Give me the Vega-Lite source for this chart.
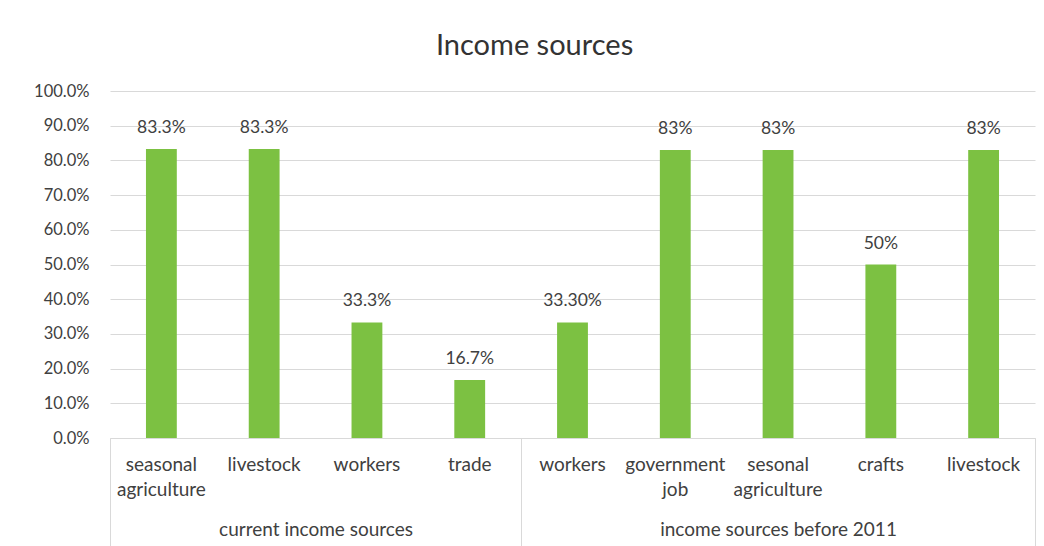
{
  "$schema": "https://vega.github.io/schema/vega-lite/v6.json",
  "width": 925,
  "height": 347,
  "autosize": {"type": "none"},
  "padding": {"left": 110, "top": 91, "right": 9, "bottom": 108},
  "background": "white",
  "config": {"view": {"stroke": null}, "font": "Lato"},
  "title": {"text": "Income sources", "font": "Lato", "fontSize": 29, "fontWeight": "normal", "color": "#333333", "anchor": "middle", "frame": "bounds", "offset": 22},
  "data": {
    "values": [
      {"group": "current income sources", "source": "seasonal agriculture", "key": "current income sources|seasonal agriculture", "value": 0.833, "label": "83.3%"},
      {"group": "current income sources", "source": "livestock", "key": "current income sources|livestock", "value": 0.833, "label": "83.3%"},
      {"group": "current income sources", "source": "workers", "key": "current income sources|workers", "value": 0.333, "label": "33.3%"},
      {"group": "current income sources", "source": "trade", "key": "current income sources|trade", "value": 0.167, "label": "16.7%"},
      {"group": "income sources before 2011", "source": "workers", "key": "income sources before 2011|workers", "value": 0.333, "label": "33.30%"},
      {"group": "income sources before 2011", "source": "government job", "key": "income sources before 2011|government job", "value": 0.83, "label": "83%"},
      {"group": "income sources before 2011", "source": "sesonal agriculture", "key": "income sources before 2011|sesonal agriculture", "value": 0.83, "label": "83%"},
      {"group": "income sources before 2011", "source": "crafts", "key": "income sources before 2011|crafts", "value": 0.5, "label": "50%"},
      {"group": "income sources before 2011", "source": "livestock", "key": "income sources before 2011|livestock", "value": 0.83, "label": "83%"}
    ]
  },
  "layer": [
    {
      "mark": {"type": "bar", "color": "#7cc142", "width": {"band": 0.3}},
      "encoding": {
        "x": {
          "field": "key", "type": "nominal", "sort": null,
          "scale": {"paddingInner": 0, "paddingOuter": 0},
          "axis": {
            "title": null, "orient": "bottom",
            "labelExpr": "split(split(datum.value, '|')[1], ' ')",
            "labelAngle": 0, "labelFont": "Lato", "labelFontSize": 19, "labelColor": "#404040",
            "labelLineHeight": 25, "labelPadding": 17, "labelLimit": 400, "labelOverlap": false,
            "ticks": false, "domainColor": "#d9d9d9", "domainWidth": 1, "grid": false
          }
        },
        "y": {
          "field": "value", "type": "quantitative",
          "scale": {"domain": [0, 1]},
          "axis": {
            "title": null, "values": [0, 0.1, 0.2, 0.3, 0.4, 0.5, 0.6, 0.7, 0.8, 0.9, 1], "tickCount": 20,
            "format": ".1%", "domain": false, "ticks": false, "labelPadding": 21, "labelOverlap": false,
            "labelFont": "Lato", "labelFontSize": 16.5, "labelColor": "#404040",
            "gridColor": "#d9d9d9", "gridWidth": 1
          }
        }
      }
    },
    {
      "mark": {"type": "text", "baseline": "alphabetic", "dy": -16, "font": "Lato", "fontSize": 17.5, "color": "#404040"},
      "encoding": {
        "x": {
          "field": "key", "type": "nominal", "sort": null,
          "axis": {
            "title": null, "orient": "bottom", "domain": false, "grid": false,
            "tickBand": "extent", "tickSize": 108, "tickColor": "#d9d9d9", "tickWidth": 1,
            "tickOpacity": {"condition": {"test": "datum.index < 0 || datum.index === 1 || datum.value === 'current income sources|trade'", "value": 1}, "value": 0},
            "labelExpr": "datum.value === 'current income sources|livestock' || datum.value === 'income sources before 2011|sesonal agriculture' ? split(datum.value, '|')[0] : ''",
            "labelOffset": {"condition": {"test": "datum.value === 'current income sources|livestock'", "value": 51.4}, "value": 0},
            "labelPadding": -26, "labelAngle": 0, "labelFont": "Lato", "labelFontSize": 19, "labelColor": "#404040",
            "labelOverlap": false, "labelLimit": 400
          }
        },
        "y": {
          "field": "value", "type": "quantitative",
          "axis": {
            "title": null, "values": [0, 0.1, 0.2, 0.3, 0.4, 0.5, 0.6, 0.7, 0.8, 0.9, 1], "tickCount": 20,
            "format": ".1%", "domain": false, "ticks": false, "labelPadding": 21, "labelOverlap": false,
            "labelFont": "Lato", "labelFontSize": 16.5, "labelColor": "#404040",
            "gridColor": "#d9d9d9", "gridWidth": 1
          }
        },
        "text": {"field": "label"}
      }
    }
  ],
  "resolve": {"axis": {"x": "independent"}}
}
